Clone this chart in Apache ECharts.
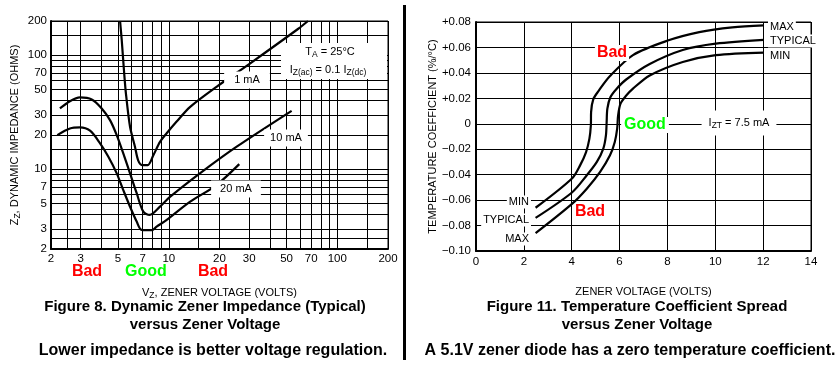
<!DOCTYPE html>
<html><head><meta charset="utf-8">
<script src="https://cdn.jsdelivr.net/npm/echarts@6/dist/echarts.min.js"></script>
<style>html,body{margin:0;padding:0;background:#fff}#c{width:840px;height:369px}</style>
</head><body><div id="c"></div>
<script>
// ---------- Figure 8: Dynamic Zener Impedance (log-log) ----------
const vz1mA  = [5.14, 5.26, 5.42, 5.57, 5.89, 6.30, 6.58, 6.95, 7.50, 8.10, 8.87, 9.72, 11.1, 13.4, 19.2, 30.3, 58.7, 67];
const zz1mA  = [200, 135, 74, 46, 23.6, 15.8, 12.0, 10.9, 10.9, 13.3, 17.4, 20.7, 26.1, 35.3, 52.9, 84.7, 171, 200];
const vz10mA = [2.26, 2.59, 2.97, 3.49, 4.0, 4.48, 4.91, 5.37, 5.89, 6.45, 7.06, 7.7, 8.87, 10.2, 15.3, 25.3, 53.6];
const zz10mA = [34.2, 39.6, 42.7, 41, 34.2, 27.0, 19.95, 13.8, 9.22, 6.17, 4.25, 3.98, 4.70, 5.75, 9.22, 15.8, 32.6];
const vz20mA = [2.18, 2.59, 2.97, 3.41, 3.91, 4.38, 4.91, 5.37, 5.89, 6.45, 6.90, 7.92, 8.47, 9.72, 13.4, 19.2, 26.2];
const zz20mA = [19.95, 22.8, 23.3, 21.8, 16.9, 12.9, 9.22, 6.58, 4.70, 3.48, 2.94, 2.92, 3.14, 3.60, 5.20, 7.28, 11.1];
const fig8XTickLabels = [2, 3, 5, 7, 10, 20, 30, 50, 70, 100, 200];
const fig8YTickLabels = [2, 3, 5, 7, 10, 20, 30, 50, 70, 100, 200];
const fig8XGridValues = [2, 2.5, 3, 4, 5, 6, 7, 8, 9, 10, 15, 20, 30, 40, 50, 60, 70, 80, 90, 100, 150, 200];
const fig8YGridValues = [2, 2.5, 3, 4, 5, 6, 7, 8, 9, 10, 15, 20, 30, 40, 50, 60, 70, 80, 90, 100, 150, 200];

// ---------- Figure 11: Temperature Coefficient Spread ----------
const tcVoltsUpper = [2.49, 4.01, 4.35, 4.60, 4.74, 4.80, 4.81, 4.90, 5.11, 5.60, 6.56, 7.95, 9.33, 10.71, 12.03];
const tcUpper      = [-0.066, -0.043, -0.0327, -0.0222, -0.0117, -0.0012, 0.0092, 0.0192, 0.0255, 0.0375, 0.054, 0.065, 0.072, 0.0758, 0.0774];
const tcVoltsMid   = [2.49, 4.01, 4.63, 5.05, 5.32, 5.43, 5.46, 5.49, 5.62, 5.88, 6.29, 7.26, 8.64, 10.02, 12.03];
const tcMid        = [-0.074, -0.054, -0.0405, -0.030, -0.0195, -0.0091, 0.0014, 0.0119, 0.021, 0.0276, 0.035, 0.047, 0.058, 0.063, 0.066];
const tcVoltsLower = [2.49, 4.01, 4.63, 5.18, 5.60, 5.80, 5.90, 5.94, 6.04, 6.26, 6.56, 7.26, 8.64, 10.02, 12.03];
const tcLower      = [-0.086, -0.063, -0.051, -0.038, -0.0248, -0.0143, -0.0038, 0.0067, 0.0158, 0.0218, 0.0276, 0.038, 0.0486, 0.054, 0.056];

const NARROW = "'Liberation Sans',Arial,Helvetica,sans-serif";
const SANS = "'Liberation Sans',Arial,Helvetica,sans-serif";

function pairs(xs, ys) { return xs.map((x, i) => [x, ys[i]]); }
function curve(name, xs, ys, gi) {
  return {
    name, type: 'line', xAxisIndex: gi, yAxisIndex: gi,
    data: pairs(xs, ys), smooth: 0.3, symbol: 'none', showSymbol: false,
    lineStyle: { color: '#000', width: 2.2 }, z: 5, animation: false, silent: true
  };
}
const richBase = {
  n: { fontSize: 11, fontFamily: NARROW, color: '#000', lineHeight: 15 },
  s: { fontSize: 8.5, fontFamily: NARROW, color: '#000', lineHeight: 9, verticalAlign: 'bottom' }
};
function tcFmt(v) {
  const r = Math.round(v * 100) / 100;
  if (Math.abs(r) < 1e-9) return '0';
  return (r > 0 ? '+' : '\u2212') + Math.abs(r).toFixed(2);
}

const chart = echarts.init(document.getElementById('c'), null, { renderer: 'canvas' });

const txt = (x, y, text, o = {}) => ({
  type: 'text', x, y, z: 100, silent: true,
  style: Object.assign({
    text, fill: '#000', font: o.font || ('11px ' + NARROW),
    align: o.align || 'center', verticalAlign: 'middle'
  }, o.style || {})
});

const TICK = 11.5;

chart.setOption({
  animation: false,
  backgroundColor: '#fff',
  grid: [
    { left: 51, top: 21, width: 337, height: 228, show: true, borderColor: '#000', borderWidth: 1, containLabel: false },
    { left: 476, top: 22, width: 335, height: 229, show: true, borderColor: '#000', borderWidth: 1, containLabel: false }
  ],
  xAxis: [
    {
      gridIndex: 0, type: 'log', logBase: 10, min: 2, max: 200,
      name: '{n|V}{s|Z}{n|, ZENER VOLTAGE (VOLTS)}', nameLocation: 'middle', nameGap: 36,
      nameTextStyle: { rich: richBase },
      axisLine: { show: true, onZero: false, lineStyle: { color: '#000', width: 2 } },
      axisTick: { show: false, customValues: fig8XGridValues },
      splitLine: { show: true, lineStyle: { color: '#000', width: 1 } },
      minorTick: { show: false }, minorSplitLine: { show: false },
      axisLabel: { customValues: fig8XTickLabels, formatter: v => String(Math.round(v * 10) / 10), color: '#000', fontSize: TICK, fontFamily: NARROW, margin: 4, showMinLabel: true, showMaxLabel: true, hideOverlap: false }
    },
    {
      gridIndex: 1, type: 'value', min: 0, max: 14, interval: 2,
      name: 'ZENER VOLTAGE (VOLTS)', nameLocation: 'middle', nameGap: 35,
      nameTextStyle: { color: '#000', fontSize: 11, fontFamily: NARROW },
      axisLine: { show: true, onZero: false, lineStyle: { color: '#000', width: 2 } },
      axisTick: { show: false },
      splitLine: { show: true, lineStyle: { color: '#000', width: 1 } },
      axisLabel: { color: '#000', fontSize: TICK, fontFamily: NARROW, margin: 5 }
    }
  ],
  yAxis: [
    {
      gridIndex: 0, type: 'log', logBase: 10, min: 2, max: 200,
      name: '{n|Z}{s|Z}{n|, DYNAMIC IMPEDANCE (OHMS)}', nameLocation: 'middle', nameGap: 29, nameRotate: 90,
      nameTextStyle: { rich: richBase },
      axisLine: { show: true, onZero: false, lineStyle: { color: '#000', width: 2 } },
      axisTick: { show: false, customValues: fig8YGridValues },
      splitLine: { show: true, lineStyle: { color: '#000', width: 1 } },
      minorTick: { show: false }, minorSplitLine: { show: false },
      axisLabel: { customValues: fig8YTickLabels, formatter: v => String(Math.round(v * 10) / 10), color: '#000', fontSize: TICK, fontFamily: NARROW, margin: 4, showMinLabel: true, showMaxLabel: true, hideOverlap: false }
    },
    {
      gridIndex: 1, type: 'value', min: -0.1, max: 0.08, interval: 0.02,
      name: 'TEMPERATURE COEFFICIENT (%/\u00B0C)', nameLocation: 'middle', nameGap: 38, nameRotate: 90,
      nameTextStyle: { color: '#000', fontSize: 11, fontFamily: NARROW },
      axisLine: { show: true, onZero: false, lineStyle: { color: '#000', width: 2 } },
      axisTick: { show: false },
      splitLine: { show: true, lineStyle: { color: '#000', width: 1 } },
      axisLabel: { formatter: tcFmt, color: '#000', fontSize: TICK, fontFamily: NARROW, margin: 5 }
    }
  ],
  series: [
    curve('1 mA', vz1mA, zz1mA, 0),
    curve('10 mA', vz10mA, zz10mA, 0),
    curve('20 mA', vz20mA, zz20mA, 0),
    curve('MAX', tcVoltsUpper, tcUpper, 1),
    curve('TYPICAL', tcVoltsMid, tcMid, 1),
    curve('MIN', tcVoltsLower, tcLower, 1)
  ],
  graphic: [
    // separator
    { type: 'rect', z: 100, silent: true, shape: { x: 403, y: 5, width: 3, height: 355 }, style: { fill: '#000' } },
    // Figure 8 annotations
    { type: 'rect', z: 99, silent: true, shape: { x: 281, y: 43, width: 106, height: 36 }, style: { fill: '#fff' } },
    txt(330, 52, '{n|T}{s|A}{n| = 25\u00B0C}', { style: { rich: richBase } }),
    txt(328, 70, '{n|I}{s|Z(ac)}{n| = 0.1 I}{s|Z(dc)}', { style: { rich: richBase } }),
    txt(247, 80, '1 mA', { style: { backgroundColor: '#fff', padding: [3, 10] } }),
    txt(286, 138, '10 mA', { style: { backgroundColor: '#fff', padding: [3, 6] } }),
    txt(236, 189, '20 mA', { style: { backgroundColor: '#fff', padding: [3, 9] } }),
    txt(87, 272, 'Bad', { font: 'bold 16px ' + SANS, style: { fill: '#ff0000' } }),
    txt(146, 272, 'Good', { font: 'bold 16px ' + SANS, style: { fill: '#00ff00' } }),
    txt(213, 272, 'Bad', { font: 'bold 16px ' + SANS, style: { fill: '#ff0000' } }),
    txt(205, 307, 'Figure 8. Dynamic Zener Impedance (Typical)', { font: 'bold 15px ' + SANS }),
    txt(205, 325, 'versus Zener Voltage', { font: 'bold 15px ' + SANS }),
    txt(213, 351, 'Lower impedance is better voltage regulation.', { font: 'bold 16px ' + SANS }),
    // Figure 11 annotations
    txt(612, 53, 'Bad', { font: 'bold 16px ' + SANS, style: { fill: '#ff0000', backgroundColor: '#fff', padding: [0, 2] } }),
    txt(645, 125, 'Good', { font: 'bold 16px ' + SANS, style: { fill: '#00ff00', backgroundColor: '#fff', padding: [0, 3] } }),
    txt(590, 212, 'Bad', { font: 'bold 16px ' + SANS, style: { fill: '#ff0000' } }),
    txt(739, 123, '{n|I}{s|ZT}{n| = 7.5 mA}', { style: { rich: richBase, backgroundColor: '#fff', padding: [5, 7] } }),
    txt(768, 27, 'MAX', { align: 'left', style: { backgroundColor: '#fff', padding: [1, 2] } }),
    txt(768, 41, 'TYPICAL', { align: 'left', style: { backgroundColor: '#fff', padding: [1, 2] } }),
    txt(768, 56, 'MIN', { align: 'left', style: { backgroundColor: '#fff', padding: [1, 2] } }),
    txt(531, 202, 'MIN', { align: 'right', style: { backgroundColor: '#fff', padding: [1, 2] } }),
    txt(531, 220, 'TYPICAL', { align: 'right', style: { backgroundColor: '#fff', padding: [1, 2] } }),
    txt(531, 239, 'MAX', { align: 'right', style: { backgroundColor: '#fff', padding: [1, 2] } }),
    txt(637, 307, 'Figure 11. Temperature Coefficient Spread', { font: 'bold 15px ' + SANS }),
    txt(637, 325, 'versus Zener Voltage', { font: 'bold 15px ' + SANS }),
    txt(630, 351, 'A 5.1V zener diode has a zero temperature coefficient.', { font: 'bold 16px ' + SANS })
  ]
});
</script>
</body></html>
